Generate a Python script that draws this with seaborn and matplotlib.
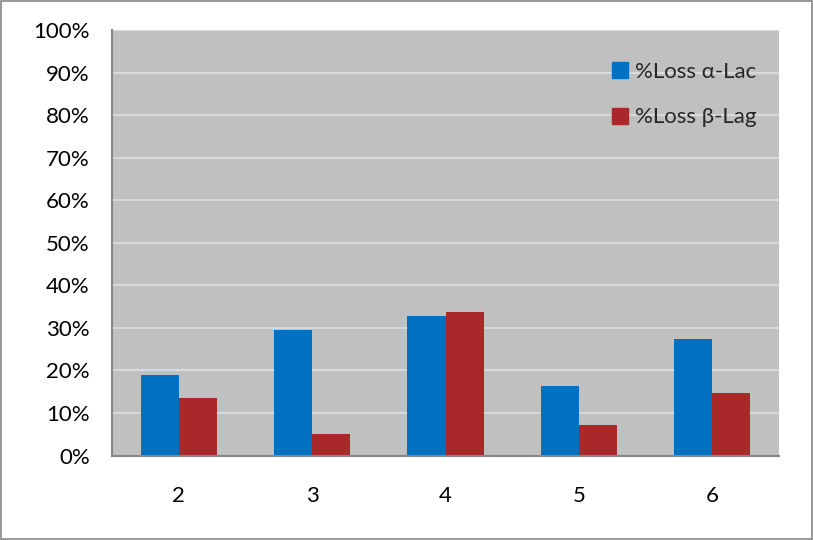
import matplotlib
matplotlib.use("Agg")
import matplotlib.pyplot as plt
import seaborn as sns
import pandas as pd
from matplotlib.patches import Rectangle
from matplotlib.lines import Line2D
from matplotlib.ticker import MultipleLocator, FuncFormatter

categories = ["2", "3", "4", "5", "6"]
loss_alpha = [18.9, 29.5, 32.8, 16.4, 27.4]
loss_beta = [13.5, 5.1, 33.8, 7.2, 14.7]
series_names = ["%Loss α-Lac", "%Loss β-Lag"]
colors = ["#0070C0", "#A9282A"]

df = pd.DataFrame({
    "cat": categories * 2,
    "val": loss_alpha + loss_beta,
    "series": [series_names[0]] * len(categories) + [series_names[1]] * len(categories),
})

sns.set_theme(style="white")
plt.rcParams["font.family"] = ["Lato", "DejaVu Sans"]

fig = plt.figure(figsize=(8.13, 5.40), dpi=100)
ax = fig.add_axes([112 / 813, 1 - 455.5 / 540, (779 - 112) / 813, (455.5 - 30) / 540])

sns.barplot(data=df, x="cat", y="val", hue="series", palette=colors,
            width=0.57, gap=0, saturation=1, ax=ax, errorbar=None, linewidth=0)

ax.set_facecolor("#C0C0C0")
ax.set_ylim(0, 100)
ax.set_xlim(-0.5, 4.5)
ax.yaxis.set_major_locator(MultipleLocator(10))
ax.yaxis.set_major_formatter(FuncFormatter(lambda v, p: f"{int(round(v))}%"))
ax.grid(axis="y", color="#D9D9D9", linewidth=1.5)
ax.set_axisbelow(True)
ax.set_xlabel("")
ax.set_ylabel("")

for s in ["top", "right"]:
    ax.spines[s].set_visible(False)
for s in ["left", "bottom"]:
    ax.spines[s].set_color("#868686")
    ax.spines[s].set_linewidth(1.5)

ax.set_xticks([i - 0.5 for i in range(len(categories) + 1)], minor=True)
ax.tick_params(axis="x", which="major", length=0, pad=22, labelsize=16, colors="black")
ax.tick_params(axis="x", which="minor", length=8, width=1.5, color="#868686", direction="out")
ax.tick_params(axis="y", which="major", length=7, width=1.5, color="#868686", direction="out",
               labelsize=16, pad=9, labelcolor="black")

h2 = [Line2D([], [], marker="s", linestyle="", markersize=11, markerfacecolor=c, markeredgecolor=c)
      for c in colors]
ax.legend(h2, series_names, loc="upper left", bbox_to_anchor=(0.711, 0.972), frameon=False,
          fontsize=16, handletextpad=0.1, labelspacing=1.15, handlelength=1.2)

fig.patches.append(Rectangle((0.001, 0.001), 0.998, 0.997, transform=fig.transFigure,
                             fill=False, edgecolor="#868686", linewidth=1.2))

fig.savefig("out.png", dpi=100)
